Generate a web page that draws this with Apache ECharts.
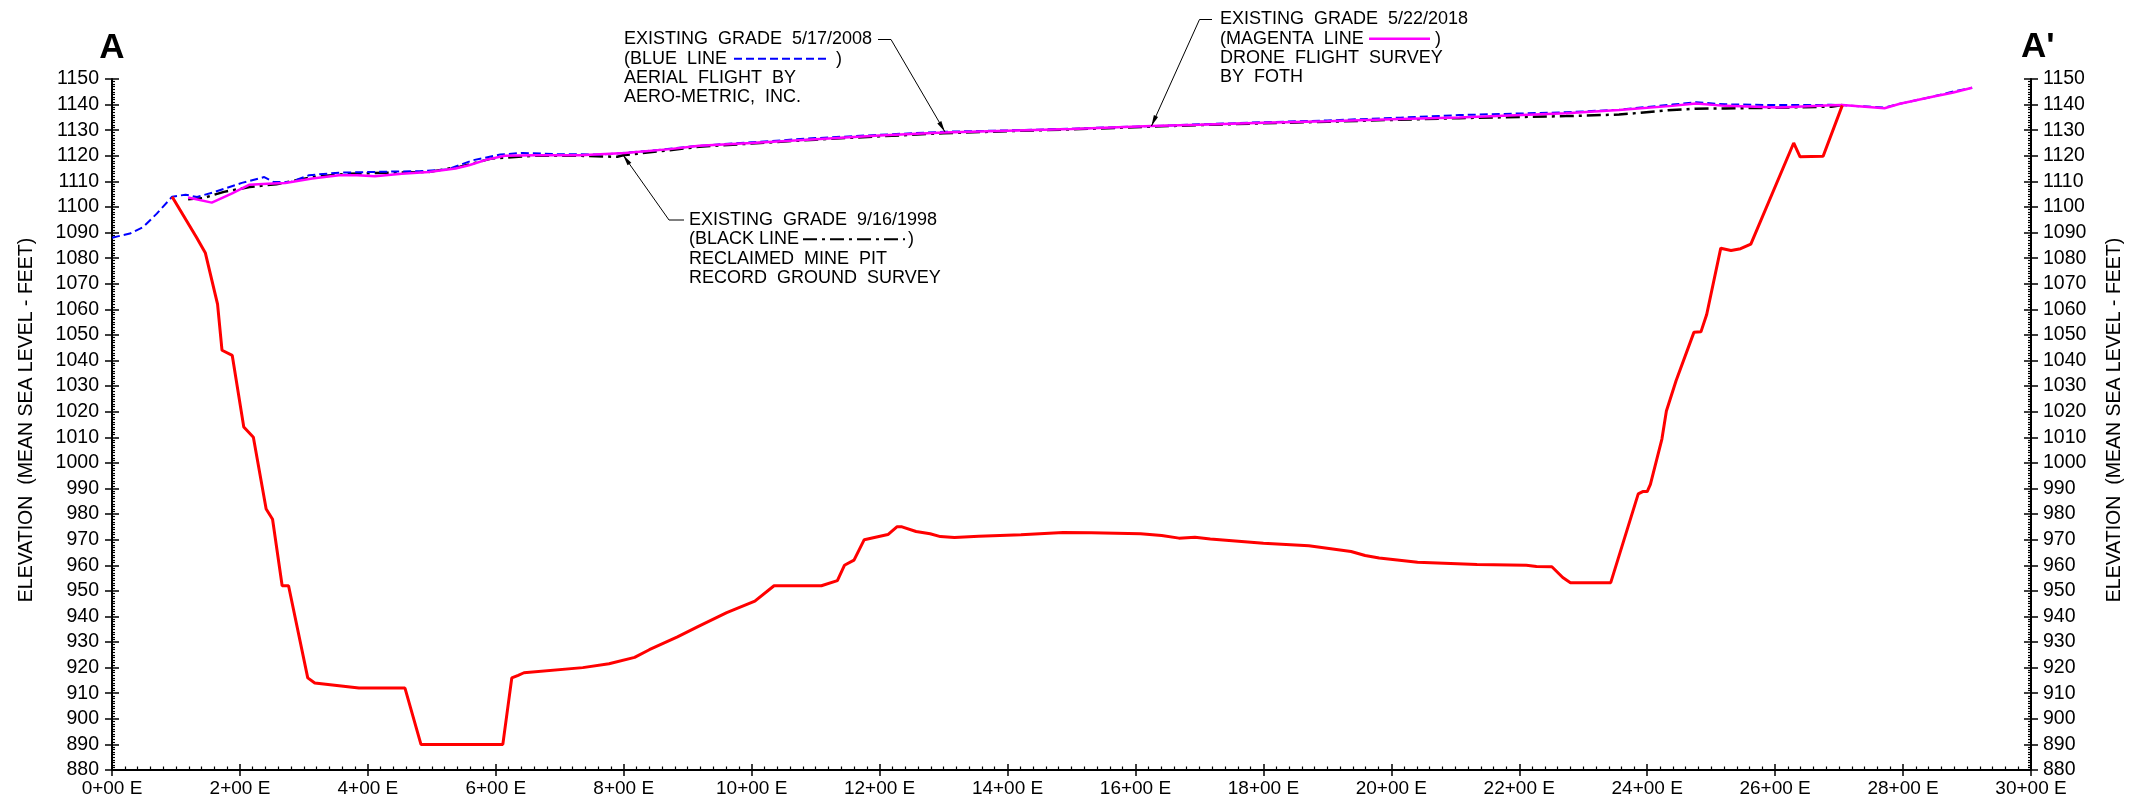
<!DOCTYPE html>
<html><head><meta charset="utf-8">
<script src="https://cdn.jsdelivr.net/npm/echarts@6/dist/echarts.min.js"></script>
<style>html,body{margin:0;padding:0;background:#fff}#c{width:2133px;height:810px}</style>
</head><body><div id="c"></div>
<script>
// ---- tick labels ----
const xTickLabels = ['0+00 E','2+00 E','4+00 E','6+00 E','8+00 E','10+00 E','12+00 E','14+00 E',
  '16+00 E','18+00 E','20+00 E','22+00 E','24+00 E','26+00 E','28+00 E','30+00 E'];
const yAxisName = 'ELEVATION  (MEAN SEA LEVEL - FEET)';

// ---- red line: pit bottom (station ft, elevation ft) ----
const redStation = [94,132,146,165,172,188,206,221,241,251,266,276,306,317,386,458,483,611,625,635,644,736,777,817,840,884,916,961,1005,1035,1109,1134,1145,1160,1176,1213,1227,1235,1257,1279,1295,1317,1355,1421,1487,1531,1608,1641,1668,1693,1717,1800,1871,1937,1959,1981,2041,2134,2211,2227,2251,2268,2280,2343,2386,2393,2400,2405,2423,2430,2445,2473,2484,2493,2515,2531,2546,2562,2629,2639,2675,2705];
const redElev = [1104,1088.2,1082,1062,1044,1042,1014,1010,982,978,952,952,916,914,912,912,890,890,916,917,918,920,921.5,924,927,932,936,941.5,946,952,952,954,960,962,970,972,975,975,973.2,972.3,971.2,970.8,971.3,971.9,972.8,972.7,972.3,971.6,970.6,970.9,970.3,968.6,967.6,965.4,963.8,962.8,961.2,960.3,960,959.5,959.4,955.2,953.2,953.2,987.9,988.8,988.8,991.6,1009.3,1020.3,1032,1051,1051.2,1058,1083.9,1083,1083.7,1085.5,1125,1119.6,1119.8,1139.7];

// ---- blue dashed: existing grade 5/17/2008 ----
const blueStation = [0,28,49,70,94,115,133,161,203,238,252,280,308,355,411,481,523,565,607,642,698,768,838,918,1000,1100,1200,1302,1400,1500,1625,1700,1800,1900,2014,2106,2273,2356,2439,2476,2522,2605,2688,2705,2771,2795,2846,2877,2908];
const blueElev = [1088,1089.6,1092.2,1097.4,1104,1104.8,1103.9,1105.9,1109.4,1111.7,1109.8,1109.8,1112.4,1113.4,1113.7,1114,1114.6,1118.3,1120.5,1121.1,1120.6,1120.5,1121.9,1123.9,1125.3,1126.9,1128.2,1129.4,1129.9,1130.6,1131.6,1132.3,1133.1,1133.8,1134.9,1135.9,1137,1138,1140,1140.9,1140.1,1139.8,1139.9,1139.8,1138.8,1140.3,1143.1,1145,1146.6];

// ---- magenta: existing grade 5/22/2018 ----
const magentaStation = [119,156,187,215,243,271,313,355,383,411,453,495,537,558,586,614,662,732,802,872,918,1000,1100,1200,1300,1400,1500,1625,1700,1800,1900,2014,2106,2273,2356,2439,2476,2522,2605,2688,2705,2771,2795,2846,2877,2908];
const magentaElev = [1103.7,1101.7,1105.2,1108.7,1109.1,1109.4,1111.1,1112.4,1112.4,1112,1113,1113.7,1115,1116.3,1118.5,1120,1120.2,1120.2,1121.1,1122.6,1123.9,1125,1126.5,1127.9,1129.1,1129.8,1130.5,1131.6,1132.1,1132.9,1133.5,1134.4,1135,1136.6,1137.9,1139.5,1140.4,1139.5,1138.9,1139.7,1139.8,1138.6,1140.3,1143.1,1144.6,1146.6];

// ---- black dash-dot: existing grade 9/16/1998 ----
const blackStation = [119,143,175,215,257,313,369,439,495,544,593,662,732,790,799,872,918,1000,1100,1200,1300,1400,1500,1625,1700,1800,1900,2014,2106,2273,2356,2439,2476,2522,2605,2688,2705];
const blackElev = [1103,1103.5,1105.9,1107.8,1108.9,1111.7,1113,1113.4,1113.7,1115.7,1118.9,1120,1120,1119.6,1120.2,1122.2,1123.5,1124.8,1126.3,1127.6,1128.8,1129.6,1130.3,1131.4,1132,1132.7,1133.3,1134.1,1134.7,1135.5,1136.1,1137.9,1138.4,1138.5,1138.8,1139.2,1139.8];

// ---- annotation anchor points (data coords) ----
const blueArrowTip = [1302, 1129.4];
const magentaArrowTip = [1625, 1131.6];
const blackArrowTip = [799, 1120.3];

const pairs = (xs, ys) => xs.map((x, i) => [x, ys[i]]);
const FONT = 'Liberation Sans';

const chart = echarts.init(document.getElementById('c'), null, {renderer: 'canvas'});

const yBase = {type: 'value', min: 880, max: 1150, interval: 10, splitLine: {show: false}};
const xBase = {type: 'value', min: 0, max: 3000, interval: 200, splitLine: {show: false}};
const tickStyle = {color: '#000', width: 1.5};
const yFmt = v => String(v);

chart.setOption({
  animation: false,
  backgroundColor: '#fff',
  grid: {left: 112, right: 102, top: 79, bottom: 40, containLabel: false},
  xAxis: [
    Object.assign({}, xBase, {
      position: 'bottom',
      axisLine: {show: true, onZero: false, lineStyle: {color: '#000', width: 2}},
      axisTick: {show: true, length: 6, lineStyle: tickStyle},
      axisLabel: {show: true, margin: 9, color: '#000', fontSize: 19, fontFamily: FONT,
        formatter: v => xTickLabels[Math.round(v / 200)]}
    }),
    Object.assign({}, xBase, {
      position: 'bottom',
      axisLine: {show: false, onZero: false},
      axisTick: {show: true, inside: true, length: 6, lineStyle: tickStyle},
      minorTick: {show: true, splitNumber: 10, length: 3.5, lineStyle: {color: '#000', width: 1.2}},
      axisLabel: {show: false}
    })
  ],
  yAxis: [
    Object.assign({}, yBase, {
      position: 'left',
      name: yAxisName, nameLocation: 'middle', nameRotate: 90, nameGap: 75,
      nameTextStyle: {color: '#000', fontSize: 19.5, fontFamily: FONT, padding: [0, 0, 0, 9]},
      axisLine: {show: true, onZero: false, lineStyle: {color: '#000', width: 2}},
      axisTick: {show: true, length: 7, lineStyle: tickStyle},
      axisLabel: {show: true, margin: 13, color: '#000', fontSize: 19.5, fontFamily: FONT, formatter: yFmt}
    }),
    Object.assign({}, yBase, {
      position: 'left',
      axisLine: {show: false, onZero: false},
      axisTick: {show: true, inside: true, length: 7, lineStyle: tickStyle},
      minorTick: {show: true, splitNumber: 10, length: 3, lineStyle: {color: '#000', width: 1.2}},
      axisLabel: {show: false}
    }),
    Object.assign({}, yBase, {
      position: 'right',
      name: yAxisName, nameLocation: 'middle', nameRotate: 90, nameGap: 74,
      nameTextStyle: {color: '#000', fontSize: 19.5, fontFamily: FONT, padding: [0, 0, 0, 9]},
      axisLine: {show: true, onZero: false, lineStyle: {color: '#000', width: 2}},
      axisTick: {show: true, length: 7, lineStyle: tickStyle},
      axisLabel: {show: true, margin: 12, color: '#000', fontSize: 19.5, fontFamily: FONT, formatter: yFmt}
    }),
    Object.assign({}, yBase, {
      position: 'right',
      axisLine: {show: false, onZero: false},
      axisTick: {show: true, inside: true, length: 7, lineStyle: tickStyle},
      minorTick: {show: true, splitNumber: 10, length: 3, lineStyle: {color: '#000', width: 1.2}},
      axisLabel: {show: false}
    })
  ],
  series: [
    {name: '1998', type: 'line', xAxisIndex: 0, yAxisIndex: 0, data: pairs(blackStation, blackElev),
      showSymbol: false, symbol: 'none', z: 2,
      lineStyle: {color: '#000', width: 2.5, type: [14, 5, 3, 5]}},
    {name: '2008', type: 'line', xAxisIndex: 0, yAxisIndex: 0, data: pairs(blueStation, blueElev),
      showSymbol: false, symbol: 'none', z: 3,
      lineStyle: {color: '#0000ff', width: 2, type: [8, 4]}},
    {name: '2018', type: 'line', xAxisIndex: 0, yAxisIndex: 0, data: pairs(magentaStation, magentaElev),
      showSymbol: false, symbol: 'none', z: 4,
      lineStyle: {color: '#ff00ff', width: 2.5}},
    {name: 'pit', type: 'line', xAxisIndex: 0, yAxisIndex: 0, data: pairs(redStation, redElev),
      showSymbol: false, symbol: 'none', z: 5,
      lineStyle: {color: '#ff0000', width: 3}}
  ]
});

// ---- annotations (text blocks, leader lines, arrows) ----
function txt(x, y, s, size, weight, align) {
  return {type: 'text', x: x, y: y, silent: true, z: 10,
    style: {text: s, fill: '#000', fontSize: size || 18, fontFamily: FONT, fontWeight: weight || 'normal',
      align: align || 'left', verticalAlign: 'middle'}};
}
function seg(x1, y1, x2, y2, stroke, w, dash) {
  return {type: 'line', silent: true, z: 10, shape: {x1: x1, y1: y1, x2: x2, y2: y2},
    style: {stroke: stroke || '#000', lineWidth: w || 1, lineDash: dash || null}};
}
function leader(points, tip) {
  const all = points.concat([tip]);
  const s = all[all.length - 2];
  const dx = tip[0] - s[0], dy = tip[1] - s[1];
  const L = Math.sqrt(dx * dx + dy * dy);
  const ux = dx / L, uy = dy / L, nx = -uy, ny = ux;
  const bx = tip[0] - ux * 11, by = tip[1] - uy * 11;
  return [
    {type: 'polyline', silent: true, z: 10, shape: {points: all}, style: {stroke: '#000', lineWidth: 1, fill: null}},
    {type: 'polygon', silent: true, z: 10,
      shape: {points: [tip, [bx + nx * 2.3, by + ny * 2.3], [bx - nx * 2.3, by - ny * 2.3]]},
      style: {fill: '#000'}}
  ];
}
const toPx = p => chart.convertToPixel({seriesIndex: 0}, p);

const g = [];
// section letters
g.push(txt(112, 48, 'A', 35, 'bold', 'center'));
g.push(txt(2021, 47, "A'", 35, 'bold', 'left'));

// blue annotation
const LH = 19.3;
g.push(txt(624, 39.5, 'EXISTING  GRADE  5/17/2008'));
g.push(txt(624, 39.5 + LH, '(BLUE  LINE'));
g.push(seg(734, 39.5 + LH, 829, 39.5 + LH, '#0000ff', 2, [8, 4]));
g.push(txt(836, 39.5 + LH, ')'));
g.push(txt(624, 39.5 + 2 * LH, 'AERIAL  FLIGHT  BY'));
g.push(txt(624, 39.5 + 3 * LH, 'AERO-METRIC,  INC.'));
g.push(...leader([[878, 39.5], [891, 39.5]], toPx(blueArrowTip)));

// black annotation
const by0 = 220;
g.push(txt(689, by0, 'EXISTING  GRADE  9/16/1998'));
g.push(txt(689, by0 + LH, '(BLACK LINE'));
g.push(seg(803, by0 + LH, 905, by0 + LH, '#000', 2, [14, 5, 3, 5]));
g.push(txt(908, by0 + LH, ')'));
g.push(txt(689, by0 + 2 * LH, 'RECLAIMED  MINE  PIT'));
g.push(txt(689, by0 + 3 * LH, 'RECORD  GROUND  SURVEY'));
g.push(...leader([[684, by0], [669, by0]], toPx(blackArrowTip)));

// magenta annotation
const my0 = 19.5;
g.push(txt(1220, my0, 'EXISTING  GRADE  5/22/2018'));
g.push(txt(1220, my0 + LH, '(MAGENTA  LINE'));
g.push(seg(1369, my0 + LH, 1430, my0 + LH, '#ff00ff', 2.5));
g.push(txt(1435, my0 + LH, ')'));
g.push(txt(1220, my0 + 2 * LH, 'DRONE  FLIGHT  SURVEY'));
g.push(txt(1220, my0 + 3 * LH, 'BY  FOTH'));
g.push(...leader([[1212, my0], [1199.5, my0]], toPx(magentaArrowTip)));

chart.setOption({graphic: {elements: g}});
</script>
</body></html>
